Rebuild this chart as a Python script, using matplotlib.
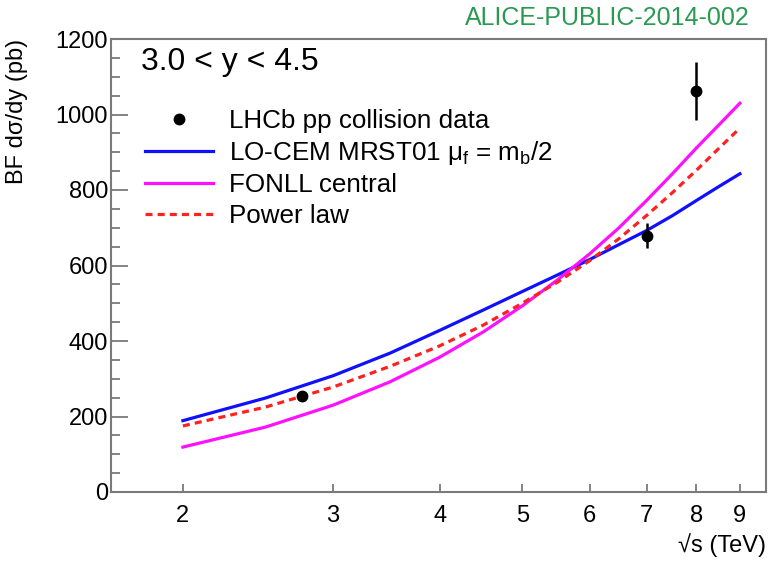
import matplotlib
matplotlib.use("Agg")
import matplotlib.pyplot as plt
from matplotlib.lines import Line2D
from matplotlib.ticker import FixedLocator, NullLocator, MultipleLocator, NullFormatter

plt.rcParams['font.family'] = ['Liberation Sans', 'DejaVu Sans']
plt.rcParams['mathtext.fontset'] = 'custom'
plt.rcParams['mathtext.rm'] = 'Liberation Sans'
plt.rcParams['mathtext.it'] = 'Liberation Sans:italic'
plt.rcParams['mathtext.sf'] = 'Liberation Sans'

# ---- data ----
sqrt_s = [2.0, 2.5, 3.0, 3.5, 4.0, 4.5, 5.0, 5.5, 6.0, 6.5, 7.0, 7.5, 8.0, 8.5, 9.0]
lo_cem = [189, 249, 308, 368, 428, 482, 531, 575, 616, 656, 693, 732, 772, 809, 843]
fonll = [119, 172, 230, 292, 357, 424, 493, 562, 631, 701, 773, 843, 911, 972, 1030]
power_law = [175, 225, 278, 333, 387, 442, 500, 556, 613, 672, 733, 793, 852, 910, 964]

data_x = [2.76, 7.0, 8.0]
data_y = [255, 679, 1063]
data_err = [12, 33, 77]

x_ticks = [2, 3, 4, 5, 6, 7, 8, 9]
x_ticklabels = ["2", "3", "4", "5", "6", "7", "8", "9"]

W, H = 778, 561
fig = plt.figure(figsize=(W / 100, H / 100), dpi=100)
L, R, T, B = 111, 766, 39, 492
ax = fig.add_axes([L / W, 1 - B / H, (R - L) / W, (B - T) / H])

blue_c, pink_c, red_c = '#1010ff', '#ff10ff', '#ff2020'
dash = (0, (2.2, 1.6))

ax.plot(sqrt_s, lo_cem, color=blue_c, lw=2.3, zorder=3)
ax.plot(sqrt_s, fonll, color=pink_c, lw=2.3, zorder=3)
ax.plot(sqrt_s, power_law, color=red_c, lw=2.3, ls=dash, zorder=4)
ax.errorbar(data_x, data_y, yerr=data_err, fmt='o', color='black', ms=7.5,
            elinewidth=1.8, capsize=0, zorder=5)

ax.set_xscale('log')
ax.set_xlim(1.647, 9.657)
ax.set_ylim(0, 1200)

ax.xaxis.set_major_locator(FixedLocator(x_ticks))
ax.set_xticklabels(x_ticklabels)
ax.xaxis.set_minor_locator(NullLocator())
ax.xaxis.set_minor_formatter(NullFormatter())
ax.yaxis.set_major_locator(MultipleLocator(200))
ax.yaxis.set_minor_locator(MultipleLocator(50))

spine_col = '#7a7a7a'
for s in ax.spines.values():
    s.set_color(spine_col)
    s.set_linewidth(1.5)

ax.tick_params(axis='y', which='major', direction='in', length=12, width=1.3, color=spine_col,
               labelsize=17, pad=2)
ax.tick_params(axis='y', which='minor', direction='in', length=6.5, width=1.3, color=spine_col)
ax.tick_params(axis='x', which='major', direction='in', length=5.5, width=1.3, color=spine_col,
               labelsize=17, pad=9)

ax.set_ylabel('BF dσ/dy (pb)', fontsize=17, loc='top')
ax.yaxis.set_label_coords((28 - L) / (R - L), 1.0)
ax.set_xlabel('√s (TeV)', fontsize=17, loc='right')
ax.xaxis.set_label_coords(1.0, -(533 - B) / (B - T))

ax.text((141 - L) / (R - L), (B - 62) / (B - T), '3.0 < y < 4.5', transform=ax.transAxes,
        fontsize=23, ha='left', va='center')

handles = [
    Line2D([], [], marker='o', ls='none', color='black', ms=7.5),
    Line2D([], [], color=blue_c, lw=2.3),
    Line2D([], [], color=pink_c, lw=2.3),
    Line2D([], [], color=red_c, lw=2.3, ls=dash),
]
labels = ['LHCb pp collision data',
          r'LO-CEM MRST01 μ$_{\rm f}$ = m$_{\rm b}$/2',
          'FONLL central',
          'Power law']
leg = ax.legend(handles, labels,
                loc='upper left', bbox_to_anchor=((145 - L) / (R - L), (B - 109) / (B - T)),
                frameon=False, fontsize=18.7, handlelength=2.6, handletextpad=0.65,
                labelspacing=0.24, borderpad=0, borderaxespad=0)

fig.text(750 / W, 1 - 18 / H, 'ALICE-PUBLIC-2014-002', color='#2a9a52', fontsize=18,
         ha='right', va='center')

fig.savefig('out.png', dpi=100)
